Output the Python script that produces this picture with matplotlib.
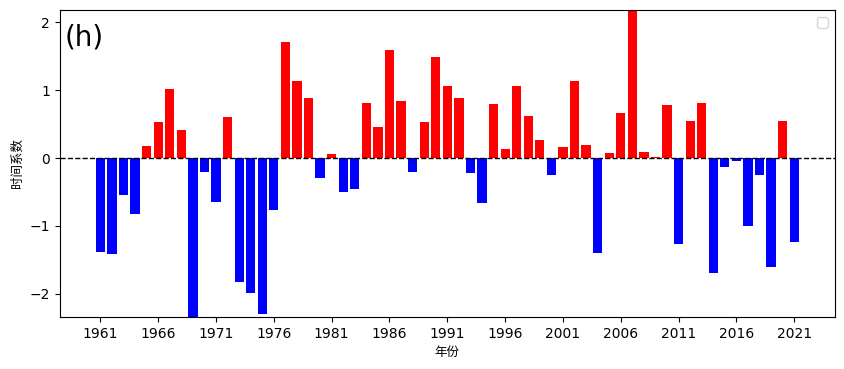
import matplotlib
matplotlib.use("Agg")
import matplotlib.pyplot as plt
import numpy as np

plt.rcParams['font.family'] = ['DejaVu Sans', 'Noto Sans CJK SC']

years = list(range(1961, 2022))
values = [-1.38, -1.41, -0.55, -0.83, 0.18, 0.53, 1.01, 0.41, -2.34, -0.21,
          -0.64, 0.60, -1.82, -1.98, -2.30, -0.77, 1.71, 1.14, 0.88, -0.29,
          0.06, -0.50, -0.45, 0.81, 0.45, 1.59, 0.84, -0.21, 0.53, 1.49,
          1.06, 0.88, -0.22, -0.66, 0.79, 0.13, 1.06, 0.62, 0.26, -0.25,
          0.16, 1.13, 0.19, -1.40, 0.07, 0.66, 2.18, 0.09, 0.015, 0.78,
          -1.26, 0.54, 0.81, -1.69, -0.13, -0.05, -1.00, -0.25, -1.60, 0.54,
          -1.23]
tick_years = list(range(1961, 2022, 5))

fig = plt.figure(figsize=(8.44, 3.69), dpi=100)
ax = fig.add_axes([0.071, 0.141, 0.918, 0.832])
colors = ['red' if v > 0 else 'blue' for v in values]
ax.bar(years, values, width=0.8, color=colors)
ax.axhline(0, color='black', linestyle='--', linewidth=1)
ax.set_xlim(1957.5, 2024.5)
ax.set_ylim(min(values), max(values))
ax.set_xticks(tick_years)
ax.set_xticklabels([str(y) for y in tick_years])
ax.set_xlabel('年份', family=['Noto Sans CJK SC'], fontsize=9)
ax.set_ylabel('时间系数', family=['Noto Sans CJK SC'], fontsize=9)
ax.text(0.006, 0.955, '(h)', transform=ax.transAxes, fontsize=20, va='top', ha='left')
ax.legend([], [], loc='upper right')
fig.savefig('out.png', dpi=100)
